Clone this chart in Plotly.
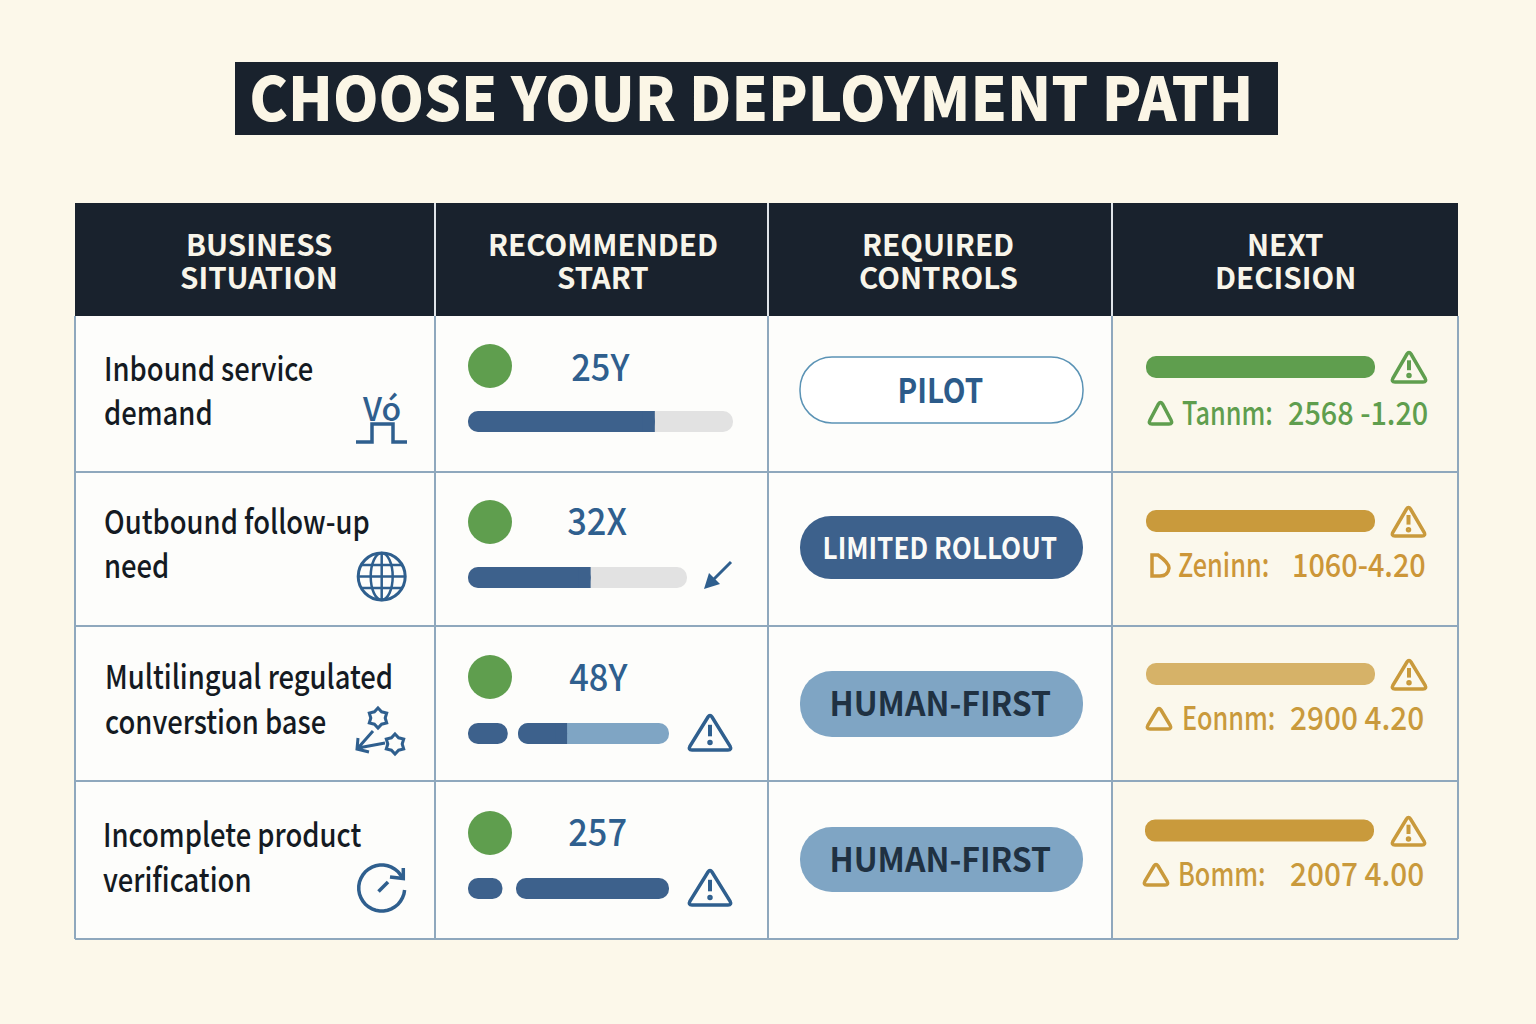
import json
import math
import plotly.graph_objects as go

# ---- chart content
title = "CHOOSE YOUR DEPLOYMENT PATH"
headers = [["BUSINESS", "SITUATION"], ["RECOMMENDED", "START"],
           ["REQUIRED", "CONTROLS"], ["NEXT", "DECISION"]]
situations = [["Inbound service", "demand"], ["Outbound follow-up", "need"],
              ["Multilingual regulated", "converstion base"], ["Incomplete product", "verification"]]
start_labels = ["25Y", "32X", "48Y", "257"]
start_fill = [70.5, 56, 32.5, 100]      # % of the track that is filled
start_lead = [0, 0, 15, 13]             # small leading segment, % of the cell's bar span
pills = ["PILOT", "LIMITED ROLLOUT", "HUMAN-FIRST", "HUMAN-FIRST"]
decision_fill = [100, 100, 100, 100]
decision_names = ["Tannm:", "Zeninn:", "Eonnm:", "Bomm:"]
decision_values = ["2568 -1.20", "1060-4.20", "2900 4.20", "2007 4.00"]

# ---- colours
PAGE = "#fcf8ea"
CELL = "#fdfdfb"
CREAM_CELL = "#fbf8ec"
DARK = "#19222d"
RULE = "#8fa8bd"
BLUE = "#2f5f8e"
BAR_BLUE = "#3d618c"
LIGHT_BLUE = "#7fa5c4"
TRACK = "#e2e2e2"
GREEN = "#5f9e4e"
GOLD = "#c99a3c"
LIGHT_GOLD = "#d6b268"
TEXT = "#141a22"
FONT = "Noto Sans CJK SC"

# ---- layout in page pixels
col_x = [75, 435, 768, 1112, 1458]
row_y = [203, 316, 472, 626, 781, 939]
header_cx = [259, 603, 938, 1285]
header_y = [243, 276]
situation_y = [[367, 411], [520, 564], [675, 720], [833, 878]]
situation_x = [102, 102, 103, 101]
dot_y = [366, 522, 677, 833]
start_label_x = [600, 597, 598, 597]
start_label_y = [365, 519, 675, 830]
bar_y = [421.5, 577.5, 733.5, 888.5]
track_x0 = [468, 468, 518, 516]
track_x1 = [733, 687, 669, 669]
pill_y = [390, 547.5, 704, 859.5]
pill_h = [66, 63, 66, 65]
pill_size = [34, 30, 33, 33]
pill_squeeze = [0.87, 0.87, 0.97, 0.97]
dec_bar_y = [367, 521, 674, 830.5]
dec_bar_x0 = [1146, 1146, 1146, 1145]
dec_colors = [GREEN, GOLD, LIGHT_GOLD, GOLD]
dec_text_colors = [GREEN, "#cc9638", "#c99a3c", "#c99a3c"]
dec_text_y = [411, 563, 716, 872]
dec_name_x = [1180, 1176, 1180, 1176]
dec_value_x = [1286, 1290, 1288, 1288]
dec_value_squeeze = [0.9, 0.9, 0.93, 0.93]

fig = go.Figure()
shapes = []
notes = []
squeeze = []    # horizontal text scale for each annotation, applied in the page


def note(x, y, text, size, color, weight=400, anchor="left", scale=1):
    notes.append(dict(x=x, y=y, text=text, showarrow=False, xanchor=anchor, yanchor="middle",
                      font=dict(family=FONT, size=size, color=color, weight=weight)))
    squeeze.append([scale, anchor])


def bar(x0, x1, yc, h, color, radius=0, line=None):
    fig.add_trace(go.Bar(x=[x1 - x0], y=[yc], base=[x0], width=[h], orientation="h", hoverinfo="skip",
                         marker=dict(color=color, cornerradius=radius,
                                     line=dict(color=line or color, width=1.5 if line else 0))))


def rect(x0, y0, x1, y1, fill):
    shapes.append(dict(type="rect", x0=x0, x1=x1, y0=y0, y1=y1, fillcolor=fill, line_width=0, layer="below"))


def stroke(path, color, width=2.5):
    shapes.append(dict(type="path", path=path, line=dict(color=color, width=width), layer="above"))


def blob(path, color):
    shapes.append(dict(type="path", path=path, fillcolor=color, line_width=0, layer="above"))


def circle(cx, cy, rx, ry, color, width=2.5):
    shapes.append(dict(type="circle", x0=cx - rx, x1=cx + rx, y0=cy - ry, y1=cy + ry,
                       line=dict(color=color, width=width), layer="above"))


def triangle(x0, x1, y0, y1, color, width=3):
    # outline with softened corners
    cx = (x0 + x1) / 2
    path = (f"M{cx - 2},{y0 + 3} Q{cx},{y0} {cx + 2},{y0 + 3} L{x1 - 1},{y1 - 4} Q{x1 + 1},{y1} {x1 - 3},{y1} "
            f"L{x0 + 3},{y1} Q{x0 - 1},{y1} {x0 + 1},{y1 - 4} Z")
    stroke(path, color, width)


def warning(x0, x1, y0, y1, color):
    triangle(x0, x1, y0, y1, color, 3.5)
    cx = (x0 + x1) / 2
    h = y1 - y0
    stroke(f"M{cx},{y0 + h * 0.3} L{cx},{y0 + h * 0.62}", color, 4)
    circle(cx, y0 + h * 0.79, 1.5, 1.5, color, 2.5)


def star(cx, cy, r):
    pts = []
    for i in range(12):
        a = math.pi * i / 6 - math.pi / 2
        rr = r if i % 2 == 0 else r * 0.72
        pts.append(f"{cx + rr * math.cos(a):.1f},{cy + rr * math.sin(a):.1f}")
    return "M" + " L".join(pts) + " Z"


# ---- table background and rules
rect(235, 62, 1278, 135, DARK)
rect(col_x[0], row_y[1], col_x[3], row_y[5], CELL)
rect(col_x[3], row_y[1], col_x[4], row_y[5], CREAM_CELL)
rect(col_x[0], row_y[0], col_x[4], row_y[1], DARK)
for y in row_y[2:]:
    shapes.append(dict(type="line", x0=col_x[0], x1=col_x[4], y0=y, y1=y, line=dict(color=RULE, width=2), layer="below"))
for x in col_x:
    shapes.append(dict(type="line", x0=x, x1=x, y0=row_y[1], y1=row_y[5], line=dict(color=RULE, width=2), layer="below"))
for x in col_x[1:4]:
    shapes.append(dict(type="line", x0=x, x1=x, y0=row_y[0], y1=row_y[1], line=dict(color="#dfe4e8", width=2), layer="below"))

# ---- text
note(751, 94, title, 60, "#fbf6e6", weight=900, anchor="center", scale=0.967)
for cx, lines in zip(header_cx, headers):
    for y, line in zip(header_y, lines):
        note(cx, y, line, 29.5, "#f8f5ea", weight=700, anchor="center")
for i, lines in enumerate(situations):
    for y, line in zip(situation_y[i], lines):
        note(situation_x[i], y, line, 33, TEXT, weight=500, scale=0.83)

# ---- recommended start column
fig.add_trace(go.Scatter(x=[490] * 4, y=dot_y, mode="markers", hoverinfo="skip",
                         marker=dict(size=44, color=GREEN, line_width=0)))
for i in range(4):
    note(start_label_x[i], start_label_y[i], start_labels[i], 37, BLUE, weight=500, anchor="center", scale=0.93)
    if start_lead[i]:
        bar(468, 468 + 265 * start_lead[i] / 100, bar_y[i], 21, BAR_BLUE, 10)
    x0, x1 = track_x0[i], track_x1[i]
    fill_end = x0 + (x1 - x0) * start_fill[i] / 100
    if start_fill[i] < 100:
        bar(x0, x1, bar_y[i], 21, LIGHT_BLUE if start_lead[i] else TRACK, 10)
    bar(x0, fill_end, bar_y[i], 21, BAR_BLUE, 10)
    if start_fill[i] < 100:
        bar(fill_end - 12, fill_end, bar_y[i], 21, BAR_BLUE)

# ---- required controls column
pill_fill = ["#ffffff", BAR_BLUE, LIGHT_BLUE, LIGHT_BLUE]
pill_text = ["#2c5b8a", "#fbfbf8", "#1f3142", "#1f3142"]
for i, label in enumerate(pills):
    bar(800, 1083, pill_y[i], pill_h[i], pill_fill[i], 32, "#5b93b5" if i == 0 else None)
    note(940, pill_y[i] - 2, label, pill_size[i], pill_text[i], weight=700, anchor="center", scale=pill_squeeze[i])

# ---- next decision column
for i in range(4):
    x0 = dec_bar_x0[i]
    bar(x0, x0 + 229 * decision_fill[i] / 100, dec_bar_y[i], 22, dec_colors[i], 10)
    note(dec_name_x[i], dec_text_y[i], decision_names[i], 32, dec_text_colors[i], weight=500, scale=0.79)
    note(dec_value_x[i], dec_text_y[i], decision_values[i], 32, dec_text_colors[i], weight=500, scale=dec_value_squeeze[i])

warning(1392, 1426, 351, 382, GREEN)
warning(1392, 1425, 506, 536, GOLD)
warning(1392, 1426, 659, 689, GOLD)
warning(1392, 1425, 816, 845, GOLD)
warning(689, 731, 714, 750, BLUE)
warning(689, 731, 869, 905, BLUE)
triangle(1149, 1172, 401, 424, GREEN, 3.5)
stroke("M1152,555 L1158,555 Q1169,563 1169,568 Q1168,576 1160,576 L1152,576 Z", "#cc9638", 3.5)
triangle(1147, 1171, 707, 729, GOLD, 3.5)
triangle(1144, 1168, 863, 885, GOLD, 3.5)

# ---- row icons
note(381, 407, "Vó", 32, BLUE, weight=500, anchor="center")
stroke("M356,442 H372 V424 H393 V442 H407", BLUE, 3.5)

circle(381.7, 576.5, 23.5, 23.5, BLUE, 3)
circle(381.7, 576.5, 11, 23.5, BLUE, 2.5)
stroke("M381.7,553 V600 M358,576.5 H405 M361,565 H402 M361,588 H402", BLUE, 2.5)

stroke("M731,562 L711,582", BLUE, 3)
blob("M704,589 L709,573 L720,584 Z", BLUE)

stroke(star(378, 718, 10), BLUE, 3)
stroke(star(395, 744, 10), BLUE, 3)
stroke("M373,731 L358,748 M385,743 L358,748 M358,738 L357,749 L369,752", BLUE, 3)

arc = []
for deg in range(5, 336, 10):
    a = math.radians(deg)
    arc.append(f"{381.7 + 23 * math.cos(a):.1f},{888 + 23 * math.sin(a):.1f}")
stroke("M" + " L".join(arc), BLUE, 3.5)
stroke("M378.5,891.5 L388,882", BLUE, 3.5)
stroke("M390,877 L403.3,878.5 L403.3,868", BLUE, 3.5)

fig.update_layout(
    width=1536,
    height=1024,
    margin=dict(l=0, r=0, t=0, b=0),
    paper_bgcolor=PAGE,
    plot_bgcolor=PAGE,
    showlegend=False,
    barmode="overlay",
    xaxis=dict(range=[0, 1536], visible=False, fixedrange=True),
    yaxis=dict(range=[1024, 0], visible=False, fixedrange=True),
    shapes=shapes,
    annotations=notes,
)

# no condensed faces are installed, so narrow the annotation text in the page
post = """
document.body.style.margin='0';document.body.style.overflow='hidden';
var squeeze=%s;
document.querySelectorAll('g.annotation').forEach(function(g){
  var s=squeeze[+g.getAttribute('data-index')],t=g.querySelector('text');
  if(!t||s[0]==1)return;
  var b=t.getBBox(),x=s[1]=='left'?b.x:b.x+b.width/2;
  t.setAttribute('transform','translate('+x+' 0) scale('+s[0]+' 1) translate('+(-x)+' 0)');
});
""" % json.dumps(squeeze)
fig.write_html("out.html", config={"displayModeBar": False}, post_script=post)
